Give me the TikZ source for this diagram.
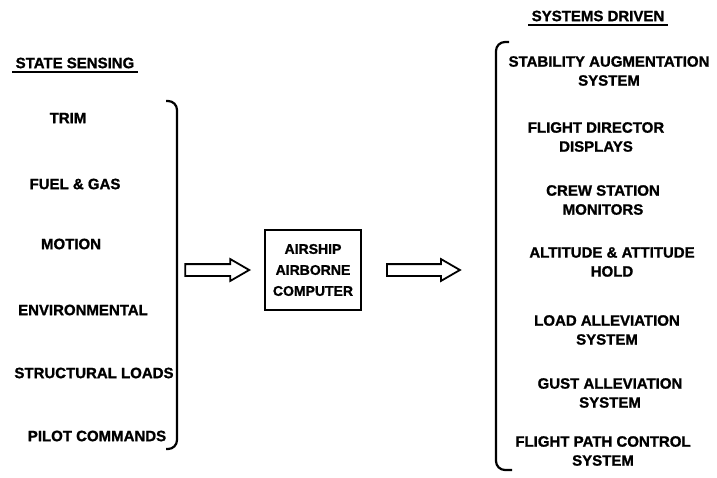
\documentclass[tikz,border=0pt]{standalone}
\usepackage{fontspec}
\setmainfont{Liberation Sans}[BoldFeatures={FakeBold=1.2}]
\usetikzlibrary{positioning, shapes.arrows}

\tikzset{
   label/.style={font=\bfseries\fontsize{15}{19}\selectfont, align=center},
   head/.style={label},
   brace/.style={line width=2.2pt, rounded corners=9pt},
   fatarrow/.style={single arrow, draw, line width=1.8pt, inner xsep=0pt,
      inner ysep=5pt, single arrow head extend=5pt, single arrow tip angle=60},
   computer/.style={draw, line width=2pt, align=center, minimum width=96pt,
      minimum height=80pt, font=\bfseries\fontsize{14}{21}\selectfont}
}

\begin{document}
\begin{tikzpicture}[x=1pt, y=-1pt]
   \useasboundingbox (0,0) rectangle (717,477);
   % Left column: state sensing
   \node[head] (sensehead) at (75,63) {STATE SENSING};
   \draw[line width=1.6pt] (sensehead.south west) -- (sensehead.south east);
   \node[label] (trim) at (68,118) {TRIM};
   \node[label] (fuel) at (75,184) {FUEL \& GAS};
   \node[label] (motion) at (71,244) {MOTION};
   \node[label] (envir) at (83,310) {ENVIRONMENTAL};
   \node[label] (loads) at (94,373) {STRUCTURAL LOADS};
   \node[label] (pilot) at (97,436) {PILOT COMMANDS};
   % Closing bracket
   \draw[brace] (166,101) -- (177,101) -- (177,449) -- (166,449);
   % Computer and arrows
   \node[computer] (box) at (313,270) {AIRSHIP\\AIRBORNE\\COMPUTER};
   \node[fatarrow, minimum height=64pt, left=13pt of box] (inarrow) {};
   \node[fatarrow, minimum height=73pt, right=24pt of box] (outarrow) {};
   % Right column: systems driven
   \node[head] (drivenhead) at (598,16) {SYSTEMS DRIVEN};
   \draw[line width=1.6pt] (drivenhead.south west) -- (drivenhead.south east);
   \draw[brace] (509,42) -- (496,42) -- (496,470) -- (512,470);
   \node[label] (sas) at (609,71) {STABILITY AUGMENTATION\\SYSTEM};
   \node[label] (fdd) at (596,137) {FLIGHT DIRECTOR\\DISPLAYS};
   \node[label] (crew) at (603,200) {CREW STATION\\MONITORS};
   \node[label] (hold) at (612,262) {ALTITUDE \& ATTITUDE\\HOLD};
   \node[label] (las) at (607,330) {LOAD ALLEVIATION\\SYSTEM};
   \node[label] (gas) at (610,393) {GUST ALLEVIATION\\SYSTEM};
   \node[label] (fpc) at (603,451) {FLIGHT PATH CONTROL\\SYSTEM};
\end{tikzpicture}
\end{document}
